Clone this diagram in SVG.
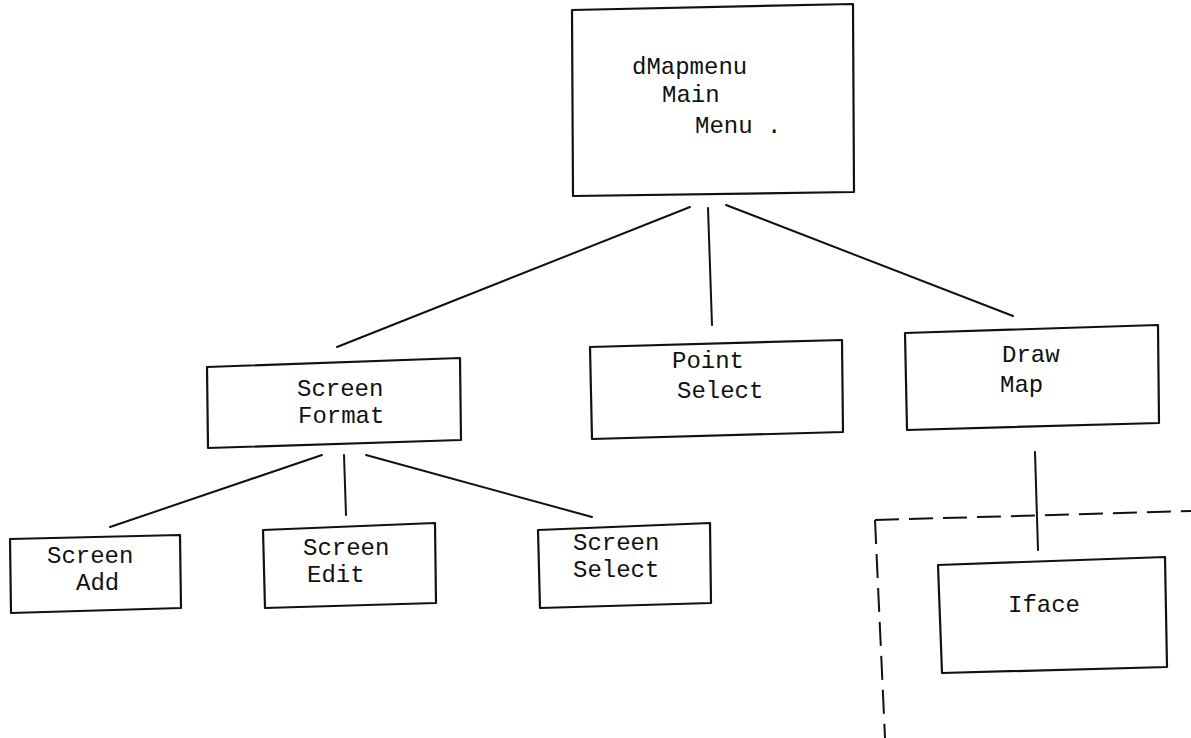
<svg xmlns="http://www.w3.org/2000/svg" width="1191" height="738" viewBox="0 0 1191 738">
<style>
.box{fill:none;stroke:#111;stroke-width:2.2;stroke-linejoin:round}
.ln{stroke:#111;stroke-width:2;fill:none;stroke-linecap:round}
.dash{stroke:#111;stroke-width:2;fill:none;stroke-dasharray:24 10}
text{font-family:"Liberation Mono","Courier New",monospace;font-size:24px;fill:#111}
</style>
<rect width="1191" height="738" fill="#fff"/>
<g id="connectors">
<line class="ln" x1="690" y1="207" x2="337" y2="347"/>
<line class="ln" x1="708" y1="208" x2="712" y2="325"/>
<line class="ln" x1="726" y1="205" x2="1013" y2="316"/>
<line class="ln" x1="322" y1="455" x2="110" y2="527"/>
<line class="ln" x1="344" y1="455" x2="346" y2="515"/>
<line class="ln" x1="366" y1="455" x2="592" y2="517"/>
<line class="ln" x1="1035" y1="452" x2="1038" y2="550"/>
</g>
<g id="boundary">
<path class="dash" d="M875,520 L1191,511"/>
<path class="dash" d="M875,520 L885,738"/>
</g>
<g id="main">
<path class="box" d="M572,10 L853,4 L854,192 L573,196 Z"/>
<text x="632" y="74">dMapmenu</text>
<text x="662" y="102">Main</text>
<text x="695" y="133">Menu .</text>
</g>
<g id="screen-format">
<path class="box" d="M207,367 L460,358 L461,440 L208,448 Z"/>
<text x="297" y="396">Screen</text>
<text x="298" y="423">Format</text>
</g>
<g id="point-select">
<path class="box" d="M590,347 L842,340 L843,432 L592,439 Z"/>
<text x="672" y="368">Point</text>
<text x="677" y="398">Select</text>
</g>
<g id="draw-map">
<path class="box" d="M905,333 L1158,325 L1159,423 L907,430 Z"/>
<text x="1002" y="362">Draw</text>
<text x="1000" y="392">Map</text>
</g>
<g id="screen-add">
<path class="box" d="M10,539 L180,535 L181,608 L11,613 Z"/>
<text x="47" y="563">Screen</text>
<text x="76" y="590">Add</text>
</g>
<g id="screen-edit">
<path class="box" d="M263,530 L435,523 L436,603 L265,608 Z"/>
<text x="303" y="555">Screen</text>
<text x="307" y="582">Edit</text>
</g>
<g id="screen-select">
<path class="box" d="M538,530 L710,523 L711,603 L540,608 Z"/>
<text x="573" y="550">Screen</text>
<text x="573" y="577">Select</text>
</g>
<g id="iface">
<path class="box" d="M938,565 L1165,557 L1167,667 L942,673 Z"/>
<text x="1008" y="612">Iface</text>
</g>
</svg>
